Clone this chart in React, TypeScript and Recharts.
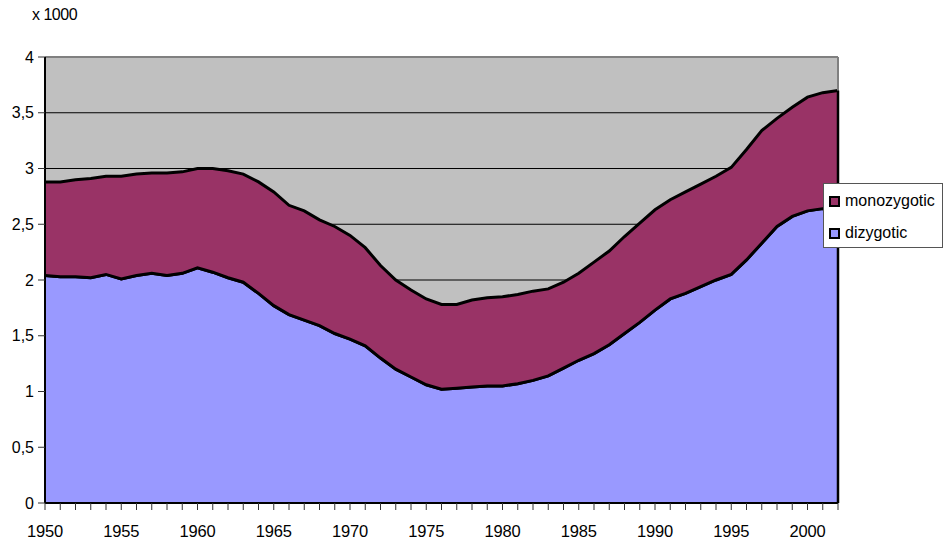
import { ComposedChart, Area, Line, XAxis, YAxis, CartesianGrid, ReferenceLine } from 'recharts'

const years = [
  1950, 1951, 1952, 1953, 1954, 1955, 1956, 1957, 1958, 1959,
  1960, 1961, 1962, 1963, 1964, 1965, 1966, 1967, 1968, 1969,
  1970, 1971, 1972, 1973, 1974, 1975, 1976, 1977, 1978, 1979,
  1980, 1981, 1982, 1983, 1984, 1985, 1986, 1987, 1988, 1989,
  1990, 1991, 1992, 1993, 1994, 1995, 1996, 1997, 1998, 1999,
  2000, 2001, 2002,
]

// thousands of births
const dizygotic = [
  2.04, 2.03, 2.03, 2.02, 2.05, 2.01, 2.04, 2.06, 2.04, 2.06,
  2.11, 2.07, 2.02, 1.98, 1.88, 1.77, 1.69, 1.64, 1.59, 1.52,
  1.47, 1.41, 1.3, 1.2, 1.13, 1.06, 1.02, 1.03, 1.04, 1.05,
  1.05, 1.07, 1.1, 1.14, 1.21, 1.28, 1.34, 1.42, 1.52, 1.62,
  1.73, 1.83, 1.88, 1.94, 2.0, 2.05, 2.18, 2.33, 2.48, 2.57,
  2.62, 2.64, 2.64,
]

const total = [
  2.88, 2.88, 2.9, 2.91, 2.93, 2.93, 2.95, 2.96, 2.96, 2.97,
  3.0, 3.0, 2.98, 2.95, 2.88, 2.79, 2.67, 2.62, 2.54, 2.48,
  2.4, 2.29, 2.13, 2.0, 1.91, 1.83, 1.78, 1.78, 1.82, 1.84,
  1.85, 1.87, 1.9, 1.92, 1.98, 2.06, 2.16, 2.26, 2.39, 2.51,
  2.63, 2.72, 2.79, 2.86, 2.93, 3.01, 3.17, 3.34, 3.45, 3.55,
  3.64, 3.68, 3.7,
]

const yTicks = [0, 0.5, 1, 1.5, 2, 2.5, 3, 3.5, 4]

const data = years.map((year, i) => ({
  year,
  dizygotic: dizygotic[i],
  monozygotic: +(total[i] - dizygotic[i]).toFixed(2),
}))

const font = '"Liberation Sans", Arial, sans-serif'

const legendItems = [
  { name: 'monozygotic', color: '#993366' },
  { name: 'dizygotic', color: '#9999FF' },
]

const LegendBox = () => (
  <div
    style={{
      position: 'absolute',
      left: 823,
      top: 183,
      width: 120,
      height: 65,
      background: '#fff',
      border: '1px solid #555',
      fontFamily: font,
      fontSize: 16,
      color: '#000',
      boxSizing: 'border-box',
      padding: '1px 0 0 5px',
    }}
  >
    {legendItems.map((item) => (
      <div key={item.name} style={{ display: 'flex', alignItems: 'center', height: 32 }}>
        <span
          style={{
            display: 'inline-block',
            width: 7,
            height: 7,
            background: item.color,
            border: '2px solid #000',
            marginRight: 5,
          }}
        />
        <span>{item.name}</span>
      </div>
    ))}
  </div>
)

const App = () => {
  return (
    <div style={{ position: 'absolute', left: 0, top: 0, width: 949, height: 543, background: '#fff' }}>
      <div
        style={{
          position: 'absolute',
          left: 32,
          top: 6,
          fontFamily: font,
          fontSize: 16,
          color: '#000',
          letterSpacing: -0.5,
        }}
      >
        x 1000
      </div>
      <ComposedChart
        width={949}
        height={543}
        data={data}
        margin={{ top: 57, right: 111, left: 0, bottom: 0 }}
      >
        <CartesianGrid vertical={false} stroke="#000" strokeWidth={1} fill="#C0C0C0" fillOpacity={1} />
        <XAxis
          dataKey="year"
          type="number"
          domain={[1950, 2002]}
          ticks={[...years]}
          interval={0}
          tickFormatter={(v) => (v % 5 === 0 ? String(v) : '')}
          axisLine={{ stroke: '#000', strokeWidth: 2 }}
          tickLine={{ stroke: '#333' }}
          tickSize={7}
          tickMargin={15}
          tick={{ fontSize: 16.5, fill: '#000', fontFamily: font, letterSpacing: -0.2 }}
          height={40}
        />
        <YAxis
          domain={[0, 4]}
          ticks={yTicks}
          interval={0}
          width={45}
          tickFormatter={(v) => String(v).replace('.', ',')}
          axisLine={{ stroke: '#000', strokeWidth: 2 }}
          tickLine={{ stroke: '#333' }}
          tickSize={7}
          tickMargin={4}
          tick={{ fontSize: 16, fill: '#000', fontFamily: font }}
        />
        <ReferenceLine y={4} stroke="#808080" strokeWidth={2} />
        <ReferenceLine x={2002} stroke="#808080" strokeWidth={2} />
        <Area
          type="linear"
          dataKey="dizygotic"
          stackId="1"
          fill="#9999FF"
          fillOpacity={1}
          stroke="#000"
          strokeWidth={3}
          isAnimationActive={false}
        />
        <Area
          type="linear"
          dataKey="monozygotic"
          stackId="1"
          fill="#993366"
          fillOpacity={1}
          stroke="#000"
          strokeWidth={3}
          isAnimationActive={false}
        />
        <Line
          type="linear"
          dataKey="dizygotic"
          stroke="#000"
          strokeWidth={3}
          dot={false}
          activeDot={false}
          legendType="none"
          isAnimationActive={false}
        />
        <ReferenceLine
          segment={[
            { x: 2002, y: 0 },
            { x: 2002, y: total[total.length - 1] },
          ]}
          stroke="#000"
          strokeWidth={2.5}
        />
      </ComposedChart>
      <LegendBox />
    </div>
  )
}

export default App
